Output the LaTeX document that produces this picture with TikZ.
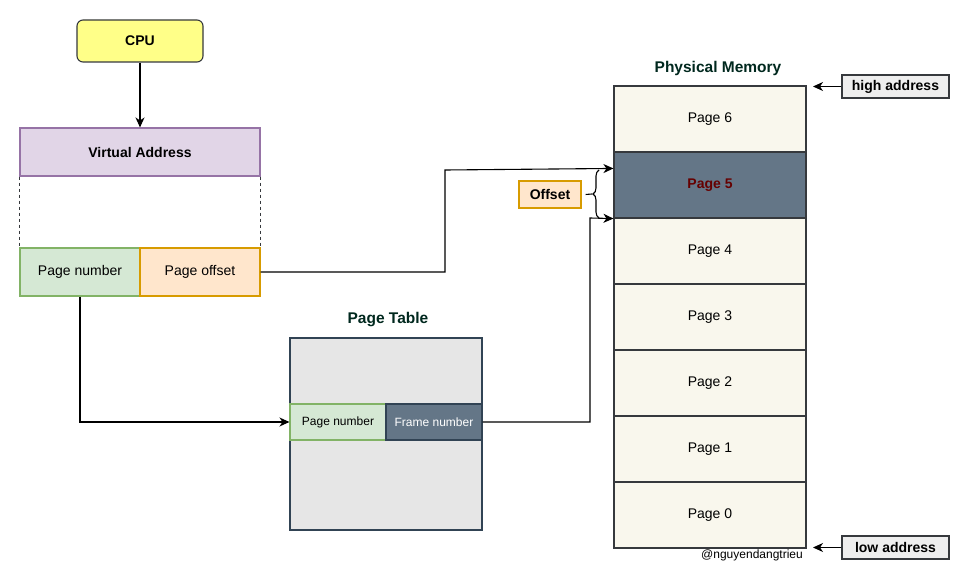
\documentclass[tikz,border=0pt]{standalone}
\usepackage{fontspec}
\setmainfont{Liberation Sans}
\usetikzlibrary{arrows.meta,decorations.pathreplacing,calc}
\definecolor{strokegray}{HTML}{36393D}
\definecolor{cpufill}{HTML}{FFFF88}
\definecolor{vafill}{HTML}{E1D5E7}
\definecolor{vastroke}{HTML}{9673A6}
\definecolor{gfill}{HTML}{D5E8D4}
\definecolor{gstroke}{HTML}{82B366}
\definecolor{ofill}{HTML}{FFE6CC}
\definecolor{ostroke}{HTML}{D79B00}
\definecolor{ptfill}{HTML}{E6E6E6}
\definecolor{slate}{HTML}{647687}
\definecolor{slatestroke}{HTML}{314354}
\definecolor{memfill}{HTML}{F9F7ED}
\definecolor{darkred}{HTML}{660000}
\definecolor{titlecol}{HTML}{00281E}
\definecolor{addrfill}{HTML}{EEEEEE}
\tikzset{
  box/.style={draw, line width=1.1pt, inner sep=0pt, align=center, font=\fontsize{14}{16}\selectfont},
  bbox/.style={box, font=\fontsize{14}{16}\selectfont\bfseries},
  small/.style={box, font=\fontsize{12}{14}\selectfont},
  mem/.style={box, fill=memfill, draw=strokegray, minimum width=192, minimum height=66},
  arr/.style={line width=1.1pt, -{Stealth[length=10pt,width=9pt,inset=3pt]}},
  conn/.style={line width=1.1pt},
  title/.style={font=\fontsize{15.5}{18}\selectfont\bfseries, text=titlecol, inner sep=0pt}
}
\begin{document}
\begin{tikzpicture}[x=1pt,y=1pt]
\useasboundingbox (0,0) rectangle (980,-578);
% CPU and virtual address
\node[bbox, fill=cpufill, draw=strokegray, rounded corners=6, minimum width=126, minimum height=42] (cpu) at (140,-41) {CPU};
\node[bbox, fill=vafill, draw=vastroke, minimum width=240, minimum height=48] (va) at (140,-152) {Virtual Address};
\node[box, fill=gfill, draw=gstroke, minimum width=120, minimum height=48] (pn) at (80,-272) {Page number};
\node[box, fill=ofill, draw=ostroke, minimum width=120, minimum height=48] (po) at (200,-272) {Page offset};
\draw[arr] (cpu.south) -- (va.north);
\draw[conn, dash pattern=on 3pt off 3pt, strokegray] (va.south west) -- (pn.north west);
\draw[conn, dash pattern=on 3pt off 3pt, strokegray] (va.south east) -- (po.north east);
% Page table
\node[title] (pttitle) at (388,-320) {Page Table};
\node[box, fill=ptfill, draw=slatestroke, minimum width=192, minimum height=192] (pt) at (386,-434) {};
\node[small, fill=gfill, draw=gstroke, minimum width=96, minimum height=36] (ptpn) at (338,-422) {Page number};
\node[small, fill=slate, draw=slatestroke, text=white, minimum width=96, minimum height=36] (ptfn) at (434,-422) {Frame number};
% Physical memory
\node[title] (pmtitle) at (718,-68) {Physical Memory};
\node[mem] (p6) at (710,-119) {Page 6};
\node[mem, fill=slate, text=darkred, font=\fontsize{14}{16}\selectfont\bfseries] (p5) at (710,-185) {Page 5};
\node[mem] (p4) at (710,-251) {Page 4};
\node[mem] (p3) at (710,-317) {Page 3};
\node[mem] (p2) at (710,-383) {Page 2};
\node[mem] (p1) at (710,-449) {Page 1};
\node[mem] (p0) at (710,-515) {Page 0};
\node[font=\fontsize{12}{14}\selectfont, inner sep=0pt] (credit) at (752,-555) {@nguyendangtrieu};
% address labels
\node[bbox, fill=addrfill, draw=strokegray, minimum width=107, minimum height=23] (high) at (895.5,-86.5) {high address};
\node[bbox, fill=addrfill, draw=strokegray, minimum width=107, minimum height=23] (low) at (895.5,-547.5) {low address};
\coordinate (hightip) at (813,-86.5);
\coordinate (lowtip) at (813,-547.5);
\draw[arr] (high.west) -- (hightip);
\draw[arr] (low.west) -- (lowtip);
% offset
\node[bbox, fill=ofill, draw=ostroke, minimum width=62, minimum height=27] (off) at (550,-194.5) {Offset};
\coordinate (in1) at ([yshift=-17]p5.north west);
\coordinate (bracetop) at (599,-170);
\coordinate (bracebot) at (599,-218);
\coordinate (bracetip) at (592,-194);
\draw[conn, decorate, decoration={brace, amplitude=6pt}] (bracebot) -- (bracetop);
\draw[conn] ([xshift=4pt]off.east) -- (bracetip);
% connectors
\draw[arr] (po.east) -| (445,-170) -- (in1);
\draw[arr] (pn.south) |- (ptpn.west);
\draw[arr] (ptfn.east) -| (590,-218) -- (p5.south west);
\end{tikzpicture}
\end{document}
